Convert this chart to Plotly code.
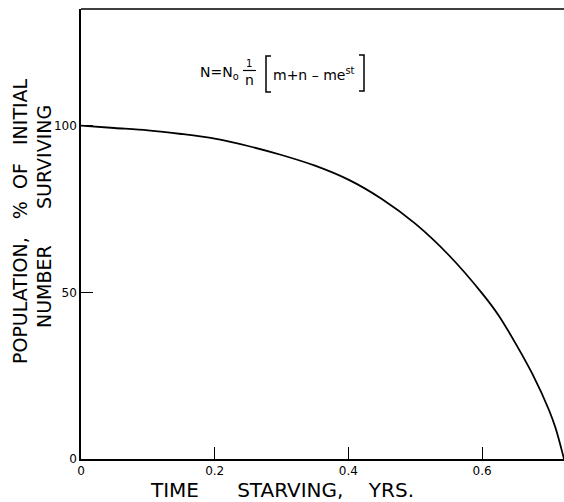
import plotly.graph_objects as go

# Time starving (years) and percent of the initial population still alive
time_yrs = [0.0, 0.05, 0.10, 0.15, 0.20, 0.25, 0.30, 0.35, 0.40, 0.45,
            0.50, 0.55, 0.60, 0.625, 0.65, 0.675, 0.70, 0.71, 0.7225]
surviving_pct = [100.0, 99.3, 98.6, 97.5, 96.1, 93.9, 91.2, 88.0, 83.8, 78.0,
                 70.6, 61.2, 49.7, 43.0, 34.7, 25.6, 14.7, 9.2, 0.0]

x_ticks = [0, 0.2, 0.4, 0.6]
x_tick_labels = ["0", "0.2", "0.4", "0.6"]
y_ticks = [0, 50, 100]
y_tick_labels = ["0", "50", "100"]

W, H = 564, 502
L, R, T, B = 81, 0, 9, 43
FONT = "DejaVu Sans"


def px(x):
    return (x - L) / (W - L - R)


def py(y):
    return (H - B - y) / (H - T - B)


fig = go.Figure()
fig.add_trace(go.Scatter(
    x=time_yrs, y=surviving_pct, mode="lines",
    line=dict(color="black", width=1.8, shape="spline", smoothing=0.9),
    hoverinfo="skip", showlegend=False,
))

fig.update_layout(
    width=W, height=H,
    margin=dict(l=L, r=R, t=T, b=B),
    paper_bgcolor="white", plot_bgcolor="white",
    font=dict(family=FONT, color="black"),
    xaxis=dict(
        range=[0, 0.7225], tickvals=x_ticks, ticktext=x_tick_labels,
        ticks="inside", ticklen=12, tickwidth=1.3, tickcolor="black",
        showline=True, linecolor="black", linewidth=1.5, mirror=False,
        showgrid=False, zeroline=False, tickfont=dict(size=12),
    ),
    yaxis=dict(
        range=[0, 135], tickvals=y_ticks, ticktext=y_tick_labels,
        ticks="inside", ticklen=12, tickwidth=1.3, tickcolor="black",
        showline=True, linecolor="black", linewidth=1.5,
        showgrid=False, zeroline=False, tickfont=dict(size=12),
    ),
)

# top frame line
fig.add_shape(type="line", xref="paper", yref="paper",
              x0=0, x1=1, y0=1, y1=1, line=dict(color="black", width=1.5))

# axis titles
title_font = dict(size=19, family=FONT)
fig.add_annotation(text="POPULATION,   %  OF   INITIAL", xref="paper", yref="paper",
                   x=px(20), y=py(221), textangle=-90, showarrow=False,
                   font=title_font, xanchor="center", yanchor="middle", borderpad=0)
fig.add_annotation(text="NUMBER      SURVIVING", xref="paper", yref="paper",
                   x=px(44), y=py(217), textangle=-90, showarrow=False,
                   font=title_font, xanchor="center", yanchor="middle", borderpad=0)
fig.add_annotation(text="TIME      STARVING,    YRS.", xref="paper", yref="paper",
                   x=px(282), y=py(490), showarrow=False,
                   font=dict(size=20, family=FONT), xanchor="center", yanchor="middle",
                   borderpad=0)

# model equation
eq_font = dict(size=14, family=FONT)
fig.add_annotation(text="N=N<sub>o</sub>", xref="paper", yref="paper",
                   x=px(199), y=py(73), showarrow=False, font=eq_font,
                   xanchor="left", yanchor="middle", borderpad=0)
fig.add_annotation(text="1", xref="paper", yref="paper",
                   x=px(249), y=py(70), showarrow=False, font=dict(size=10, family=FONT),
                   xanchor="center", yanchor="bottom", borderpad=0)
fig.add_annotation(text="n", xref="paper", yref="paper",
                   x=px(249), y=py(71), showarrow=False, font=eq_font,
                   xanchor="center", yanchor="top", borderpad=0)
fig.add_shape(type="line", xref="paper", yref="paper",
              x0=px(243), x1=px(256), y0=py(70.5), y1=py(70.5),
              line=dict(color="black", width=1.2))
fig.add_annotation(text="m+n \u2013 me<sup>st</sup>", xref="paper", yref="paper",
                   x=px(272), y=py(74), showarrow=False, font=eq_font,
                   xanchor="left", yanchor="middle", borderpad=0)
# brackets around the term
fig.add_shape(type="path", xref="paper", yref="paper",
              path=f"M {px(271)} {py(56)} L {px(266)} {py(56)} L {px(266)} {py(92)} L {px(271)} {py(92)}",
              line=dict(color="black", width=1.5))
fig.add_shape(type="path", xref="paper", yref="paper",
              path=f"M {px(359)} {py(55)} L {px(364)} {py(55)} L {px(364)} {py(91)} L {px(359)} {py(91)}",
              line=dict(color="black", width=1.5))

fig.write_html("out.html")
